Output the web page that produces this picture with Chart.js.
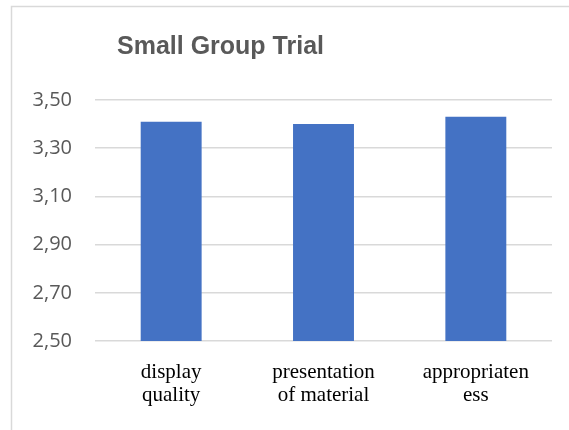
<!DOCTYPE html>
<html>
<head>
<meta charset="utf-8">
<script src="https://cdn.jsdelivr.net/npm/chart.js@4"></script>
<style>
  html, body { margin: 0; padding: 0; background: #fff; }
  #wrap { position: relative; width: 569px; height: 430px; }
</style>
</head>
<body>
<div id="wrap"><canvas id="trialChart" width="569" height="430"></canvas></div>
<script>
// Chart data
const chartTitle = 'Small Group Trial';
const categories = [
  ['display', 'quality'],
  ['presentation', 'of material'],
  ['appropriaten', 'ess']
];
const scores = [3.41, 3.40, 3.43];
const yMin = 2.5;
const yMax = 3.5;
const yStep = 0.2;

// Frame lines and the off-centre title, like the original office chart
const framePlugin = {
  id: 'frame',
  beforeDraw(chart) {
    const ctx = chart.ctx;
    ctx.save();
    ctx.strokeStyle = '#d9d9d9';
    ctx.lineWidth = 1.5;
    ctx.beginPath();
    ctx.moveTo(11.5, chart.height);
    ctx.lineTo(11.5, 6.5);
    ctx.lineTo(chart.width, 6.5);
    ctx.stroke();
    ctx.restore();
  },
  afterDraw(chart) {
    const ctx = chart.ctx;
    ctx.save();
    ctx.fillStyle = '#595959';
    ctx.font = 'bold 25px "Liberation Sans", Arial, sans-serif';
    ctx.textAlign = 'left';
    ctx.textBaseline = 'alphabetic';
    ctx.fillText(chartTitle, 117, 54);
    ctx.restore();
  }
};

const ctx = document.getElementById('trialChart').getContext('2d');
const chart = new Chart(ctx, {
  type: 'bar',
  data: {
    labels: categories,
    datasets: [{
      label: chartTitle,
      data: scores,
      backgroundColor: '#4472c4',
      borderWidth: 0,
      barPercentage: 0.4,
      categoryPercentage: 1.0
    }]
  },
  options: {
    responsive: false,
    animation: false,
    layout: {
      padding: { top: 100, right: 17, left: 0, bottom: 0 }
    },
    scales: {
      x: {
        grid: { display: false },
        border: { display: false },
        ticks: {
          color: '#000000',
          padding: 12,
          maxRotation: 0,
          autoSkip: false,
          font: { family: '"Liberation Serif", "Times New Roman", serif', size: 21, lineHeight: 1.1 }
        },
        afterFit: (scale) => { scale.height = 89; }
      },
      y: {
        min: yMin,
        max: yMax,
        grid: {
          color: '#d9d9d9',
          lineWidth: 1.5,
          drawTicks: false
        },
        border: { display: false },
        ticks: {
          stepSize: yStep,
          color: '#595959',
          padding: 23,
          font: { family: '"Open Sans", sans-serif', size: 20 },
          callback: (value) => value.toFixed(2).replace('.', ',')
        },
        afterFit: (scale) => { scale.width = 95; }
      }
    },
    plugins: {
      legend: { display: false },
      title: { display: false },
      tooltip: { enabled: false }
    }
  },
  plugins: [framePlugin]
});
</script>
</body>
</html>
